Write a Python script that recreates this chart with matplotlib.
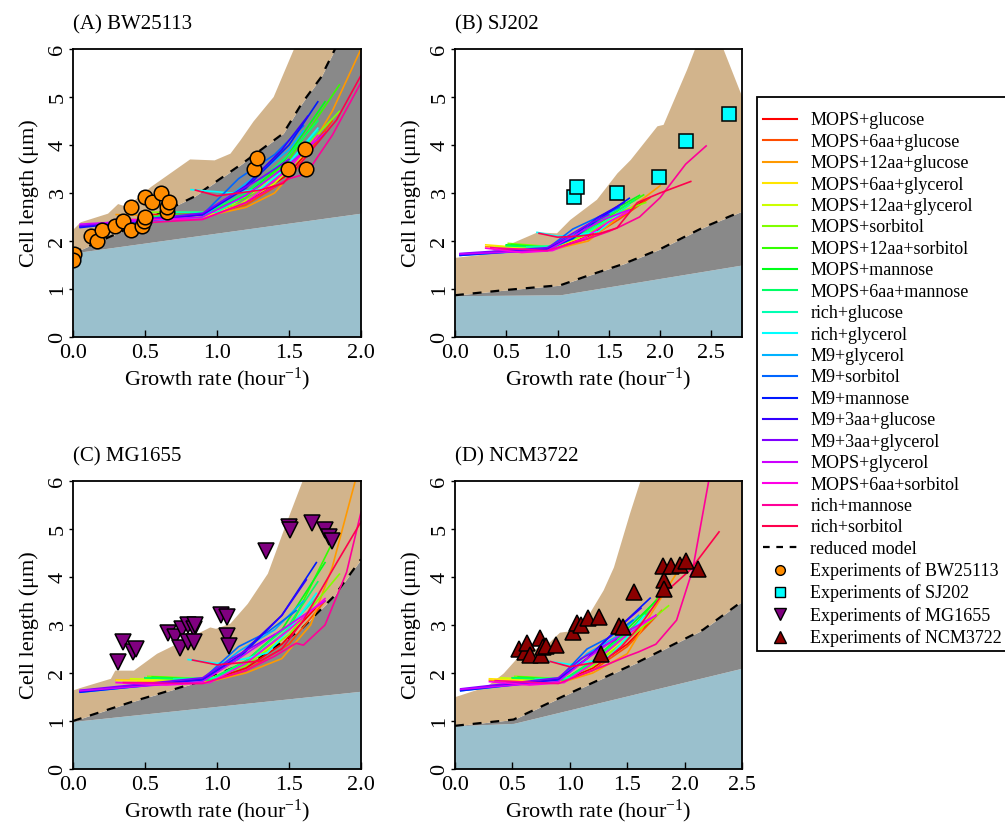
import matplotlib
matplotlib.use("Agg")
import matplotlib.pyplot as plt
from matplotlib.lines import Line2D
from matplotlib.patches import Rectangle
from matplotlib.colors import hsv_to_rgb
import numpy as np

plt.rcParams['font.family'] = ['Liberation Serif', 'DejaVu Serif']
plt.rcParams['mathtext.fontset'] = 'custom'
plt.rcParams['mathtext.rm'] = 'Liberation Serif'
plt.rcParams['mathtext.it'] = 'Liberation Serif:italic'

# ---------------- legend / series names ----------------
conditions = ["MOPS+glucose", "MOPS+6aa+glucose", "MOPS+12aa+glucose", "MOPS+6aa+glycerol",
              "MOPS+12aa+glycerol", "MOPS+sorbitol", "MOPS+12aa+sorbitol", "MOPS+mannose",
              "MOPS+6aa+mannose", "rich+glucose", "rich+glycerol", "M9+glycerol",
              "M9+sorbitol", "M9+mannose", "M9+3aa+glucose", "M9+3aa+glycerol",
              "MOPS+glycerol", "MOPS+6aa+sorbitol", "rich+mannose", "rich+sorbitol"]
panel_titles = ["(A) BW25113", "(B) SJ202", "(C) MG1655", "(D) NCM3722"]
xlims = [2.0, 2.8, 2.0, 2.5]
xticks_A = [0.0, 0.5, 1.0, 1.5, 2.0]
xticks_B = [0.0, 0.5, 1.0, 1.5, 2.0, 2.5]
yticks = [0, 1, 2, 3, 4, 5, 6]

# ---------------- background bands ----------------
blueA_x = [0, 2.0];               blueA_y = [1.75, 2.58]
dashA_x = [0, 0.28, 0.53, 0.84, 1.16, 1.46, 1.59, 1.72, 1.82, 2.0]
dashA_y = [1.75, 2.12, 2.47, 2.92, 3.58, 4.24, 4.87, 5.4, 6.0, 7.0]
tanA_x = [0, 0.05, 0.24, 0.31, 0.37, 0.54, 0.81, 0.98, 1.09, 1.16, 1.25, 1.39, 1.53, 2.0]
tanA_y = [2.25, 2.4, 2.58, 2.78, 2.72, 3.14, 3.71, 3.69, 3.83, 4.11, 4.5, 5.01, 6.0, 8.0]

blueB_x = [0, 1.03, 2.8];         blueB_y = [0.86, 0.88, 1.5]
dashB_x = [0, 0.5, 1.03, 1.3, 1.64, 2.0, 2.42, 2.8]
dashB_y = [0.87, 0.98, 1.08, 1.28, 1.52, 1.83, 2.28, 2.62]
tanB_x = [0, 0.25, 0.54, 0.8, 0.99, 1.12, 1.38, 1.58, 1.71, 1.97, 2.03, 2.26, 2.39, 2.56, 2.8]
tanB_y = [1.66, 1.72, 1.95, 2.19, 2.17, 2.45, 2.87, 3.42, 3.70, 4.40, 4.43, 5.58, 6.3, 6.3, 5.0]

blueC_x = [0, 2.0];               blueC_y = [0.99, 1.62]
dashC_x = [0, 0.42, 0.88, 1.30, 1.58, 1.81, 2.0]
dashC_y = [1.0, 1.41, 1.82, 2.34, 2.90, 3.59, 4.37]
tanC_x = [0, 0.05, 0.26, 0.29, 0.42, 0.58, 0.77, 0.95, 0.99, 1.09, 1.21, 1.35, 1.46, 1.59, 2.0]
tanC_y = [1.65, 1.7, 1.89, 2.06, 2.06, 2.41, 2.69, 2.96, 2.93, 3.04, 3.45, 4.08, 4.98, 6.0, 8.0]

blueD_x = [0, 0.51, 2.5];         blueD_y = [0.9, 0.95, 2.10]
dashD_x = [0, 0.51, 1.0, 1.58, 2.16, 2.5]
dashD_y = [0.9, 1.03, 1.58, 2.21, 2.90, 3.49]
tanD_x = [0, 0.27, 0.42, 0.57, 0.80, 0.91, 1.0, 1.15, 1.29, 1.38, 1.52, 1.61, 2.5]
tanD_y = [1.51, 1.72, 2.0, 2.4, 2.6, 2.85, 2.88, 3.17, 3.73, 4.21, 5.33, 6.0, 8.0]

# ---------------- experiments ----------------
expA_x = [0.01, 0.0, 0.125, 0.17, 0.20, 0.29, 0.35, 0.40, 0.40, 0.48, 0.49, 0.50, 0.50, 0.55,
          0.61, 0.65, 0.65, 0.67, 1.26, 1.28, 1.49, 1.61, 1.62]
expA_y = [1.72, 1.61, 2.11, 2.01, 2.22, 2.31, 2.41, 2.71, 2.22, 2.31, 2.41, 2.51, 2.91, 2.81,
          3.01, 2.60, 2.71, 2.81, 3.51, 3.72, 3.51, 3.92, 3.51]
expB_x = [1.16, 1.19, 1.58, 1.99, 2.25, 2.67]
expB_y = [2.92, 3.13, 2.99, 3.33, 4.08, 4.65]
expC_x = [0.31, 0.35, 0.42, 0.44, 0.66, 0.71, 0.74, 0.76, 0.80, 0.80, 0.84, 0.84, 0.85,
          1.03, 1.07, 1.07, 1.08, 1.34, 1.50, 1.51, 1.66, 1.75, 1.78, 1.80]
expC_y = [2.23, 2.64, 2.43, 2.51, 2.84, 2.74, 2.53, 2.91, 3.01, 2.64, 2.91, 2.64, 3.01,
          3.20, 3.16, 2.77, 2.57, 4.55, 5.05, 4.98, 5.12, 4.98, 4.83, 4.74]
expD_x = [0.56, 0.61, 0.63, 0.65, 0.74, 0.75, 0.77, 0.79, 0.88, 1.03, 1.06, 1.10, 1.16,
          1.25, 1.27, 1.43, 1.46, 1.56, 1.81, 1.82, 1.82, 1.88, 1.96, 2.01, 2.12]
expD_y = [2.50, 2.43, 2.62, 2.38, 2.72, 2.38, 2.54, 2.57, 2.59, 2.85, 3.04, 2.99, 3.14,
          3.16, 2.40, 2.97, 2.95, 3.68, 4.23, 3.94, 3.74, 4.23, 4.25, 4.33, 4.17]

# ---------------- model trajectories (x list, y list) per condition ----------------
linesA = [
    ([0.5, 0.9, 1.2, 1.5, 1.75], [2.55, 2.55, 2.8, 3.4, 4.3]),
    ([0.45, 0.9, 1.2, 1.5, 1.8], [2.5, 2.52, 2.75, 3.3, 4.5]),
    ([0.3, 0.9, 1.2, 1.4, 1.6, 1.8, 2.0], [2.55, 2.5, 2.7, 3.0, 3.7, 4.7, 6.0]),
    ([0.3, 0.9, 1.1, 1.3, 1.5], [2.4, 2.5, 2.75, 3.1, 3.6]),
    ([0.4, 0.9, 1.15, 1.4, 1.6], [2.45, 2.5, 2.75, 3.2, 3.8]),
    ([0.55, 0.9, 1.2, 1.5, 1.85], [2.6, 2.6, 2.8, 3.6, 4.7]),
    ([0.6, 0.9, 1.2, 1.5, 1.85], [2.55, 2.55, 2.9, 3.7, 5.25]),
    ([0.5, 0.9, 1.2, 1.45, 1.75], [2.5, 2.55, 2.95, 3.6, 4.9]),
    ([0.5, 0.9, 1.2, 1.5, 1.7], [2.5, 2.55, 3.0, 3.8, 4.5]),
    ([0.7, 1.0, 1.2, 1.5, 1.7], [2.6, 2.6, 2.95, 3.6, 4.3]),
    ([0.82, 1.1, 1.3, 1.45, 1.7], [3.07, 3.0, 3.08, 3.45, 4.35]),
    ([0.05, 0.9, 1.2, 1.5, 1.6], [2.3, 2.5, 3.2, 3.9, 4.3]),
    ([0.05, 0.9, 1.15, 1.4, 1.6], [2.3, 2.55, 3.3, 3.8, 4.4]),
    ([0.05, 0.9, 1.2, 1.5, 1.7], [2.28, 2.55, 3.1, 4.0, 4.9]),
    ([0.05, 0.9, 1.2, 1.45, 1.63], [2.3, 2.55, 3.15, 3.9, 4.6]),
    ([0.05, 0.9, 1.1, 1.3, 1.5], [2.32, 2.58, 2.95, 3.3, 3.7]),
    ([0.05, 0.9, 1.2, 1.5, 1.75], [2.35, 2.5, 2.95, 3.6, 4.25]),
    ([0.3, 0.9, 1.2, 1.5, 1.7], [2.45, 2.45, 2.8, 3.5, 4.2]),
    ([0.5, 0.9, 1.2, 1.5, 1.62, 1.8, 2.0], [2.38, 2.45, 2.8, 3.3, 3.4, 4.2, 5.3]),
    ([0.85, 1.0, 1.3, 1.46, 1.62, 1.83, 2.0], [3.06, 2.94, 3.06, 3.2, 3.76, 4.52, 5.45]),
]
linesB = [
    ([0.5, 0.95, 1.3, 1.6, 1.85], [1.85, 1.85, 2.1, 2.5, 2.85]),
    ([0.45, 0.95, 1.3, 1.6, 1.9], [1.82, 1.83, 2.05, 2.45, 2.9]),
    ([0.3, 0.95, 1.3, 1.6, 2.0], [1.88, 1.82, 2.0, 2.5, 3.15]),
    ([0.3, 0.9, 1.2, 1.5], [1.92, 1.82, 2.05, 2.45]),
    ([0.4, 0.9, 1.25, 1.55], [1.88, 1.84, 2.1, 2.5]),
    ([0.52, 0.95, 1.3, 1.6, 1.86], [1.95, 1.88, 2.15, 2.6, 2.8]),
    ([0.55, 0.95, 1.3, 1.6, 1.84], [1.93, 1.86, 2.2, 2.65, 2.96]),
    ([0.5, 0.95, 1.3, 1.55, 1.8], [1.92, 1.86, 2.25, 2.65, 2.95]),
    ([0.5, 0.95, 1.3, 1.55, 1.75], [1.9, 1.86, 2.25, 2.6, 2.85]),
    ([0.7, 1.0, 1.3, 1.5, 1.7], [1.88, 1.9, 2.2, 2.45, 2.75]),
    ([0.8, 1.0, 1.2, 1.4, 1.6], [2.18, 2.1, 2.12, 2.2, 2.55]),
    ([0.05, 0.9, 1.15, 1.4, 1.6], [1.7, 1.82, 2.15, 2.45, 2.7]),
    ([0.05, 0.9, 1.15, 1.3, 1.6], [1.71, 1.84, 2.25, 2.4, 2.7]),
    ([0.05, 0.9, 1.15, 1.4, 1.7], [1.7, 1.83, 2.05, 2.45, 2.89]),
    ([0.05, 0.9, 1.15, 1.4, 1.65], [1.72, 1.84, 2.1, 2.5, 2.8]),
    ([0.05, 0.9, 1.1, 1.3, 1.5], [1.74, 1.86, 2.1, 2.35, 2.55]),
    ([0.05, 0.9, 1.15, 1.45, 1.7], [1.73, 1.8, 2.1, 2.45, 2.65]),
    ([0.3, 0.65, 0.95, 1.25, 1.5, 1.7], [1.85, 1.76, 1.8, 2.05, 2.4, 2.62]),
    ([0.35, 0.9, 1.3, 1.5, 1.6, 1.8, 2.0, 2.25, 2.45], [1.86, 1.8, 2.05, 2.2, 2.29, 2.5, 2.9, 3.6, 3.98]),
    ([0.82, 1.0, 1.2, 1.4, 1.58, 1.78, 2.0, 2.3], [2.16, 2.08, 2.1, 2.15, 2.27, 2.8, 3.0, 3.24]),
]
linesC = [
    ([0.5, 0.95, 1.2, 1.45, 1.7], [1.85, 1.85, 2.1, 2.6, 3.4]),
    ([0.45, 0.95, 1.2, 1.5, 1.75], [1.8, 1.83, 2.05, 2.6, 3.5]),
    ([0.3, 0.95, 1.2, 1.45, 1.65, 1.8, 1.96], [1.85, 1.82, 2.0, 2.3, 3.0, 4.2, 6.0]),
    ([0.3, 0.9, 1.1, 1.3, 1.5], [1.85, 1.82, 2.05, 2.4, 2.9]),
    ([0.4, 0.9, 1.15, 1.4, 1.6], [1.88, 1.84, 2.1, 2.6, 3.2]),
    ([0.52, 0.95, 1.2, 1.5, 1.85], [1.93, 1.88, 2.15, 2.8, 4.06]),
    ([0.55, 0.95, 1.2, 1.5, 1.81], [1.92, 1.86, 2.2, 2.9, 4.77]),
    ([0.5, 0.95, 1.2, 1.45, 1.75], [1.9, 1.86, 2.25, 2.9, 4.3]),
    ([0.5, 0.95, 1.2, 1.5, 1.7], [1.9, 1.86, 2.25, 3.0, 3.9]),
    ([0.7, 1.0, 1.2, 1.45, 1.7], [1.88, 1.9, 2.2, 2.8, 3.6]),
    ([0.8, 1.0, 1.2, 1.35, 1.5, 1.69], [2.28, 2.2, 2.3, 2.42, 2.9, 3.66]),
    ([0.05, 0.9, 1.15, 1.4, 1.6], [1.6, 1.85, 2.45, 2.9, 3.5]),
    ([0.05, 0.9, 1.15, 1.35, 1.55], [1.61, 1.87, 2.55, 2.85, 3.3]),
    ([0.05, 0.9, 1.15, 1.45, 1.69], [1.6, 1.86, 2.3, 3.2, 4.3]),
    ([0.05, 0.9, 1.15, 1.45, 1.62], [1.62, 1.87, 2.35, 3.2, 3.94]),
    ([0.05, 0.9, 1.1, 1.25, 1.4], [1.64, 1.9, 2.3, 2.55, 2.8]),
    ([0.05, 0.9, 1.15, 1.45, 1.75], [1.63, 1.82, 2.3, 2.9, 3.5]),
    ([0.3, 0.65, 0.95, 1.2, 1.5, 1.75], [1.8, 1.75, 1.8, 2.2, 2.9, 3.55]),
    ([0.35, 0.9, 1.2, 1.4, 1.55, 1.6, 1.75, 1.9, 2.0], [1.8, 1.78, 2.05, 2.35, 2.62, 2.58, 3.0, 4.1, 5.35]),
    ([0.83, 1.0, 1.3, 1.45, 1.6, 1.83, 2.0], [2.27, 2.17, 2.25, 2.5, 3.1, 4.29, 5.15]),
]
linesD = [
    ([0.5, 0.95, 1.2, 1.5, 1.75], [1.85, 1.85, 2.1, 2.6, 3.2]),
    ([0.45, 0.95, 1.2, 1.5, 1.8], [1.8, 1.83, 2.05, 2.55, 3.3]),
    ([0.3, 0.95, 1.2, 1.5, 1.7, 1.92], [1.85, 1.82, 2.0, 2.4, 3.2, 4.04]),
    ([0.3, 0.9, 1.1, 1.3, 1.5], [1.88, 1.82, 2.05, 2.35, 2.8]),
    ([0.4, 0.9, 1.15, 1.4, 1.6], [1.9, 1.84, 2.1, 2.5, 3.0]),
    ([0.52, 0.95, 1.2, 1.5, 1.86], [1.93, 1.88, 2.15, 2.7, 3.40]),
    ([0.55, 0.95, 1.2, 1.5, 1.78], [1.92, 1.86, 2.2, 2.8, 3.6]),
    ([0.5, 0.95, 1.2, 1.45, 1.75], [1.9, 1.86, 2.25, 2.8, 3.5]),
    ([0.5, 0.95, 1.2, 1.5, 1.7], [1.9, 1.86, 2.25, 2.85, 3.3]),
    ([0.7, 1.0, 1.2, 1.45, 1.65], [1.88, 1.9, 2.2, 2.7, 3.1]),
    ([0.8, 1.0, 1.2, 1.35, 1.5, 1.65], [2.25, 2.18, 2.25, 2.35, 2.75, 3.2]),
    ([0.05, 0.9, 1.15, 1.4, 1.6], [1.63, 1.85, 2.4, 2.75, 3.2]),
    ([0.05, 0.9, 1.15, 1.35, 1.55], [1.64, 1.87, 2.5, 2.75, 3.1]),
    ([0.05, 0.9, 1.15, 1.45, 1.70], [1.63, 1.86, 2.3, 3.0, 3.56]),
    ([0.05, 0.9, 1.15, 1.45, 1.62], [1.65, 1.87, 2.3, 3.0, 3.35]),
    ([0.05, 0.9, 1.1, 1.25, 1.4], [1.67, 1.9, 2.3, 2.5, 2.7]),
    ([0.05, 0.9, 1.15, 1.45, 1.75], [1.66, 1.82, 2.3, 2.8, 3.2]),
    ([0.3, 0.65, 0.95, 1.2, 1.5, 1.75], [1.82, 1.75, 1.8, 2.2, 2.8, 3.2]),
    ([0.35, 0.9, 1.3, 1.5, 1.6, 1.75, 1.93, 2.07, 2.21], [1.84, 1.78, 2.15, 2.35, 2.44, 2.6, 3.1, 4.15, 6.0]),
    ([0.83, 1.0, 1.3, 1.45, 1.6, 1.79, 2.05, 2.3], [2.24, 2.13, 2.25, 2.55, 2.95, 3.59, 4.15, 4.94]),
]

# ---------------- styling ----------------
COL_BLUE = '#9AC0CD'
COL_GRAY = '#898989'
COL_TAN = '#D2B48C'
line_colors = [hsv_to_rgb((i / 20.0, 1.0, 1.0)) for i in range(20)]

W, H = 1005, 823
fig = plt.figure(figsize=(W / 100, H / 100), dpi=100)

boxes = [(73, 49, 361, 337), (455, 49, 742, 337), (73, 481, 361, 769), (455, 481, 742, 769)]
bands = [(blueA_x, blueA_y, dashA_x, dashA_y, tanA_x, tanA_y),
         (blueB_x, blueB_y, dashB_x, dashB_y, tanB_x, tanB_y),
         (blueC_x, blueC_y, dashC_x, dashC_y, tanC_x, tanC_y),
         (blueD_x, blueD_y, dashD_x, dashD_y, tanD_x, tanD_y)]
exps = [(expA_x, expA_y, 'o', '#FF8C00', 10.5),
        (expB_x, expB_y, 's', '#00FFFF', 9.5),
        (expC_x, expC_y, 'v', '#800080', 11.5),
        (expD_x, expD_y, '^', '#8B0000', 11.5)]
all_lines = [linesA, linesB, linesC, linesD]

for k in range(4):
    l, t, r, b = boxes[k]
    ax = fig.add_axes([l / W, 1 - b / H, (r - l) / W, (b - t) / H])
    bx, by, dx, dy, tx, ty = bands[k]
    xmax = xlims[k]
    grid = np.union1d(np.union1d(bx, dx), tx)
    byi = np.interp(grid, bx, by)
    dyi = np.interp(grid, dx, dy)
    tyi = np.interp(grid, tx, ty)
    ax.fill_between(grid, 0, byi, color=COL_BLUE, lw=0, zorder=1)
    ax.fill_between(grid, byi, np.maximum(dyi, byi), color=COL_GRAY, lw=0, zorder=1)
    ax.fill_between(grid, dyi, np.maximum(tyi, dyi), color=COL_TAN, lw=0, zorder=1)
    ax.plot(dx, dy, color='black', lw=1.6, ls=(0, (4, 4)), zorder=3)
    for i, (lx, ly) in enumerate(all_lines[k]):
        ax.plot(lx, ly, color=line_colors[i], lw=1.2, zorder=4)
    ex, ey, mk, mc, ms = exps[k]
    ax.plot(ex, ey, ls='none', marker=mk, ms=ms, mfc=mc, mec='black', mew=1.1, zorder=6)

    ticks = xticks_A if xmax <= 2.0 else xticks_B
    ax.set_xlim(0, xmax)
    ax.set_ylim(0, 6)
    ax.set_xticks(ticks)
    ax.set_xticklabels(["%.1f" % v for v in ticks])
    ax.set_yticks(yticks)
    ax.set_yticklabels([str(v) for v in yticks])
    ax.tick_params(axis='x', direction='in', length=5, width=1.0, labelsize=16, pad=5)
    ax.tick_params(axis='y', direction='out', length=3, width=1.0, labelsize=16, pad=1,
                   labelrotation=90)
    for lab in ax.get_yticklabels():
        lab.set_va('center')
    for sp in ax.spines.values():
        sp.set_linewidth(1.3)
        sp.set_zorder(10)
    ax.set_xlabel("Growth rate (hour$^{-1}$)", fontsize=16, labelpad=2)
    ax.set_ylabel("Cell length (\u03bcm)", fontsize=16, labelpad=7)
    ax.text(0.0, 1.085, panel_titles[k], transform=ax.transAxes, fontsize=15,
            ha='left', va='center')

# ---------------- legend ----------------
# frame drawn separately (it runs past the right edge of the figure, as in the reference)
frame = Rectangle((757 / W, 1 - 651 / H), 260 / W, (651 - 97) / H, transform=fig.transFigure,
                  facecolor='white', edgecolor='black', lw=1.3, zorder=0)
fig.patches.append(frame)

handles = [Line2D([], [], color=line_colors[i], lw=1.5) for i in range(20)]
handles.append(Line2D([], [], color='black', lw=1.6, ls=(0, (3, 3))))
handles.append(Line2D([], [], ls='none', marker='o', ms=7, mfc='#FF8C00', mec='black', mew=1.0))
handles.append(Line2D([], [], ls='none', marker='s', ms=6.5, mfc='#00FFFF', mec='black', mew=1.0))
handles.append(Line2D([], [], ls='none', marker='v', ms=8, mfc='#800080', mec='black', mew=1.0))
handles.append(Line2D([], [], ls='none', marker='^', ms=8, mfc='#8B0000', mec='black', mew=1.0))
labels = conditions + ["reduced model", "Experiments of BW25113", "Experiments of SJ202",
                       "Experiments of MG1655", "Experiments of NCM3722"]
leg = fig.legend(handles, labels, loc='upper left', bbox_to_anchor=(757 / W, 1 - 106 / H),
                 bbox_transform=fig.transFigure, fontsize=13, frameon=False,
                 handlelength=1.85, handletextpad=0.75, labelspacing=0.245,
                 borderpad=0.35, borderaxespad=0)

fig.savefig("out.png", dpi=100)
